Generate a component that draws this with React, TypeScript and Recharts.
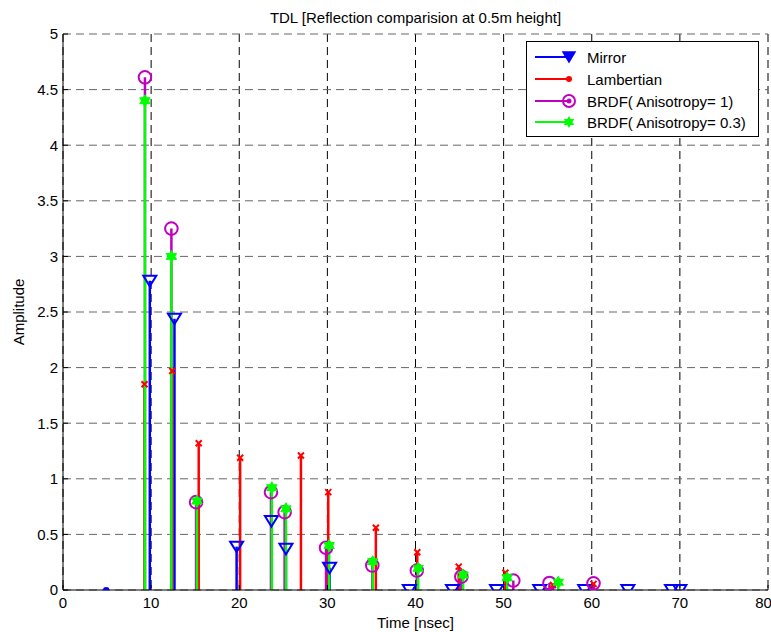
import React from "react";
import {
    ComposedChart,
    Scatter,
    XAxis,
    YAxis,
    CartesianGrid,
    ReferenceLine,
} from "recharts";

// Mirror
const mirrorTime = [9.85, 12.65, 19.7, 23.65, 25.3, 30.25, 39.3, 44.2, 49.2, 54.1, 59.2, 64.1, 69.05, 70.0];
const mirrorAmp = [2.78, 2.44, 0.39, 0.62, 0.37, 0.2, 0, 0, 0, 0, 0, 0, 0, 0];
// direct path blip at the start
const mirrorStartTime = [4.9];
const mirrorStartAmp = [0];

// Lambertian
const lambTime = [9.25, 12.4, 15.4, 20.1, 27.0, 30.1, 35.5, 40.2, 44.9, 50.2, 55.6, 60.2];
const lambAmp = [1.85, 1.97, 1.32, 1.19, 1.21, 0.88, 0.56, 0.34, 0.21, 0.155, 0.045, 0.055];

// BRDF anisotropy 1
const brdf1Time = [9.3, 12.3, 15.1, 23.6, 25.15, 29.85, 35.1, 40.15, 45.2, 51.1, 55.2, 60.2];
const brdf1Amp = [4.61, 3.25, 0.79, 0.88, 0.7, 0.38, 0.22, 0.175, 0.12, 0.085, 0.063, 0.06];

// BRDF anisotropy 0.3
const brdf03Time = [9.3, 12.3, 15.2, 23.7, 25.3, 30.2, 35.15, 40.3, 45.4, 50.4, 56.2];
const brdf03Amp = [4.4, 3.0, 0.8, 0.92, 0.73, 0.4, 0.255, 0.195, 0.135, 0.11, 0.07];

const xTicks = [0, 10, 20, 30, 40, 50, 60, 70, 80];
const yTicks = [0, 0.5, 1, 1.5, 2, 2.5, 3, 3.5, 4, 4.5, 5];

const BLUE = "#0000ff";
const RED = "#ff0000";
const MAGENTA = "#bf00bf";
const GREEN = "#00ff00";
const FONT = "'Liberation Sans', Arial, sans-serif";

const toPoints = (t: number[], a: number[]) => t.map((x, i) => ({ t: x, a: a[i] }));

const TriDown = (p: any) => {
    const { cx, cy } = p;
    return (
        <polygon
            points={`${cx - 6.5},${cy - 5} ${cx + 6.5},${cy - 5} ${cx},${cy + 5.5}`}
            fill="none"
            stroke={BLUE}
            strokeWidth={2}
        />
    );
};

const Blip = (p: any) => <ellipse cx={p.cx} cy={p.cy - 1} rx={3} ry={2} fill={BLUE} />;

const Cross = (p: any) => {
    const { cx, cy } = p;
    return (
        <path
            d={`M${cx - 3},${cy - 3}L${cx + 3},${cy + 3}M${cx - 3},${cy + 3}L${cx + 3},${cy - 3}`}
            stroke={RED}
            strokeWidth={2}
        />
    );
};

const Ring = (p: any) => (
    <circle cx={p.cx} cy={p.cy} r={6.3} fill="none" stroke={MAGENTA} strokeWidth={2} />
);

const starPath = (cx: number, cy: number, ro: number, ri: number) => {
    let d = "";
    for (let i = 0; i < 12; i++) {
        const r = i % 2 === 0 ? ro : ri;
        const ang = (Math.PI / 6) * i - Math.PI / 2;
        d += `${i === 0 ? "M" : "L"}${cx + r * Math.cos(ang)},${cy + r * Math.sin(ang)}`;
    }
    return d + "Z";
};

const Star = (p: any) => <path d={starPath(p.cx, p.cy, 6, 3.4)} fill={GREEN} stroke={GREEN} strokeWidth={1} />;

const stems = (t: number[], a: number[], color: string, key: string) =>
    t.map((x, i) => (
        <ReferenceLine
            key={key + i}
            segment={[
                { x, y: 0 },
                { x, y: a[i] },
            ]}
            stroke={color}
            strokeWidth={2.5}
            ifOverflow="visible"
        />
    ));

const legendRows = [
    { label: "Mirror", color: BLUE, kind: "tri" },
    { label: "Lambertian", color: RED, kind: "dot" },
    { label: "BRDF( Anisotropy= 1)", color: MAGENTA, kind: "ring" },
    { label: "BRDF( Anisotropy= 0.3)", color: GREEN, kind: "star" },
];

function LegendBox() {
    const rowY = [16, 38, 60, 81];
    return (
        <svg
            width={234}
            height={97}
            style={{ position: "absolute", left: 526, top: 41 }}
        >
            <rect x={0.5} y={0.5} width={232} height={95} fill="#fff" stroke="#000" strokeWidth={1} />
            {legendRows.map((r, i) => {
                const y = rowY[i];
                const mx = 43;
                return (
                    <g key={r.label}>
                        <line x1={9} x2={mx} y1={y} y2={y} stroke={r.color} strokeWidth={2} />
                        {r.kind === "tri" && (
                            <polygon
                                points={`${mx - 6},${y - 5} ${mx + 6},${y - 5} ${mx},${y + 5}`}
                                fill={r.color}
                                stroke={r.color}
                                strokeWidth={1.5}
                            />
                        )}
                        {r.kind === "dot" && <circle cx={mx} cy={y} r={3} fill={r.color} />}
                        {r.kind === "ring" && (
                            <g>
                                <circle cx={mx} cy={y} r={6} fill="none" stroke={r.color} strokeWidth={2} />
                                <circle cx={mx} cy={y} r={2.5} fill={r.color} />
                            </g>
                        )}
                        {r.kind === "star" && <path d={starPath(mx, y, 6, 3.4)} fill={r.color} />}
                        <text x={61} y={y + 5.5} fontSize={15} fontFamily={FONT} fill="#000">
                            {r.label}
                        </text>
                    </g>
                );
            })}
        </svg>
    );
}

export default function App() {
    const tickStyle = { fontSize: 15, fill: "#000", fontFamily: FONT };
    return (
        <div
            style={{
                position: "absolute",
                left: 0,
                top: 0,
                width: 771,
                height: 632,
                background: "#fff",
                fontFamily: FONT,
            }}
        >
            <div
                style={{
                    position: "absolute",
                    left: 63,
                    width: 705,
                    top: 9,
                    lineHeight: "17px",
                    textAlign: "center",
                    fontSize: 15,
                    color: "#000",
                }}
            >
                TDL [Reflection comparision at 0.5m height]
            </div>
            <ComposedChart
                width={771}
                height={632}
                margin={{ top: 34, right: 3, bottom: 0, left: 0 }}
            >
                <CartesianGrid horizontal={false} stroke="#000" strokeDasharray="8 5" />
                <CartesianGrid vertical={false} stroke="#666" strokeDasharray="8 5" />
                <XAxis
                    type="number"
                    dataKey="t"
                    domain={[0, 80]}
                    ticks={xTicks}
                    allowDataOverflow
                    height={42}
                    tickSize={-5}
                    tickMargin={12}
                    stroke="#000"
                    tick={tickStyle}
                    label={{
                        value: "Time [nsec]",
                        position: "insideBottom",
                        offset: 4,
                        style: { fontSize: 15, fill: "#000", fontFamily: FONT },
                    }}
                />
                <XAxis
                    xAxisId="top"
                    orientation="top"
                    type="number"
                    dataKey="t"
                    domain={[0, 80]}
                    ticks={xTicks}
                    height={0}
                    tickSize={-5}
                    tickFormatter={() => ""}
                    stroke="#000"
                />
                <YAxis
                    type="number"
                    dataKey="a"
                    domain={[0, 5]}
                    ticks={yTicks}
                    allowDataOverflow
                    width={63}
                    tickSize={-5}
                    tickMargin={10}
                    stroke="#000"
                    tick={tickStyle}
                    label={{
                        value: "Amplitude",
                        angle: -90,
                        position: "insideLeft",
                        offset: 19,
                        style: { textAnchor: "middle", fontSize: 15, fill: "#000", fontFamily: FONT },
                    }}
                />
                <YAxis
                    yAxisId="right"
                    orientation="right"
                    type="number"
                    dataKey="a"
                    domain={[0, 5]}
                    ticks={yTicks}
                    width={0}
                    tickSize={-5}
                    tickFormatter={() => ""}
                    stroke="#000"
                />

                {stems(mirrorTime, mirrorAmp, BLUE, "m")}
                <Scatter
                    name="Mirror"
                    data={toPoints(mirrorTime, mirrorAmp)}
                    shape={TriDown}
                    isAnimationActive={false}
                />
                <Scatter
                    name="Mirror start"
                    data={toPoints(mirrorStartTime, mirrorStartAmp)}
                    shape={Blip}
                    isAnimationActive={false}
                />

                {stems(lambTime, lambAmp, RED, "l")}
                <Scatter
                    name="Lambertian"
                    data={toPoints(lambTime, lambAmp)}
                    shape={Cross}
                    isAnimationActive={false}
                />

                {stems(brdf1Time, brdf1Amp, MAGENTA, "b1")}
                <Scatter
                    name="BRDF( Anisotropy= 1)"
                    data={toPoints(brdf1Time, brdf1Amp)}
                    shape={Ring}
                    isAnimationActive={false}
                />

                {stems(brdf03Time, brdf03Amp, GREEN, "b3")}
                <Scatter
                    name="BRDF( Anisotropy= 0.3)"
                    data={toPoints(brdf03Time, brdf03Amp)}
                    shape={Star}
                    isAnimationActive={false}
                />
            </ComposedChart>
            <LegendBox />
        </div>
    );
}
